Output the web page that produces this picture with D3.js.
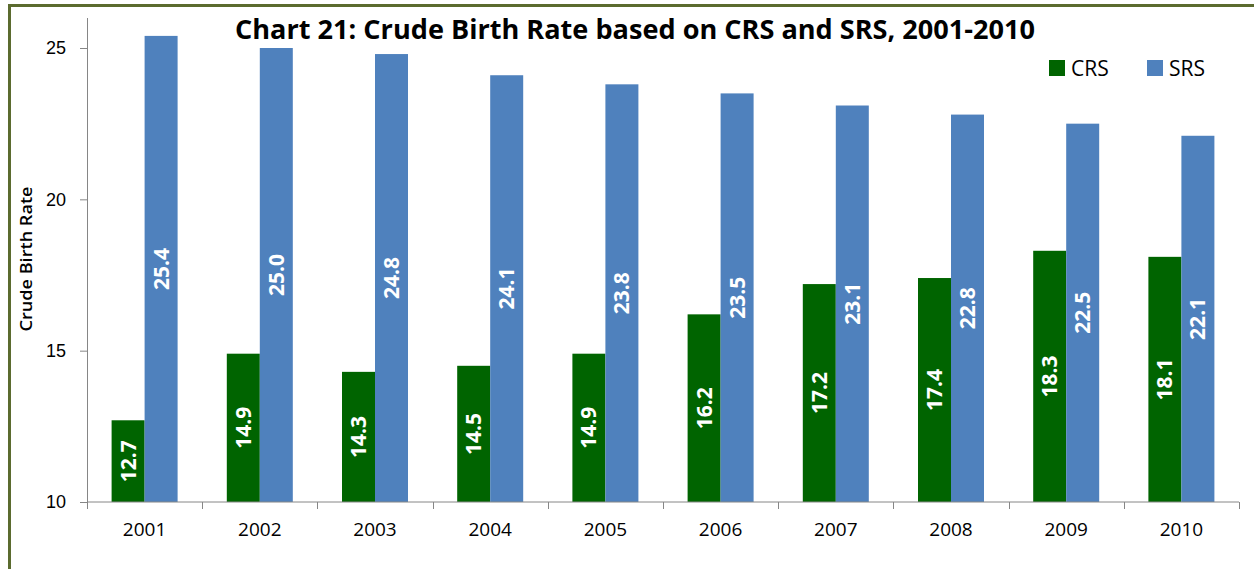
<!DOCTYPE html>
<html>
<head>
<meta charset="utf-8">
<script src="https://cdn.jsdelivr.net/npm/d3@7"></script>
<style>
  body { margin: 0; background: #fff; }
  svg { display: block; font-family: "Open Sans", "Liberation Sans", sans-serif; }
</style>
</head>
<body>
<svg id="chart" width="1254" height="569"></svg>
<script>
  var years = ['2001', '2002', '2003', '2004', '2005', '2006', '2007', '2008', '2009', '2010'];
  var crs = [12.7, 14.9, 14.3, 14.5, 14.9, 16.2, 17.2, 17.4, 18.3, 18.1];
  var srs = [25.4, 25.0, 24.8, 24.1, 23.8, 23.5, 23.1, 22.8, 22.5, 22.1];
  var seriesNames = ['CRS', 'SRS'];
  var yTicks = [10, 15, 20, 25];

  var colors = {CRS: '#006400', SRS: '#4f81bd'};

  var svg = d3.select('#chart'),
      margin = {top: 48, left: 87, right: 15, bottom: 67},
      width = +svg.attr('width') - margin.left - margin.right,
      height = +svg.attr('height') - margin.top - margin.bottom;

  // frame (only top and left visible)
  svg.append('path')
      .attr('d', 'M9.5,569 V5.5 H1254')
      .attr('fill', 'none')
      .attr('stroke', '#5b6b2f')
      .attr('stroke-width', 3);

  var g = svg.append('g')
      .attr('transform', 'translate(' + margin.left + ',' + margin.top + ')');

  var x = d3.scaleBand().domain(years).range([0, width]);
  var xInner = d3.scaleBand().domain(seriesNames).range([0, 66]);
  var y = d3.scaleLinear().domain([10, 25]).range([height, 0]);

  var data = years.map(function (yr, i) {
    return {year: yr, values: [{key: 'CRS', value: crs[i]}, {key: 'SRS', value: srs[i]}]};
  });

  var groups = g.selectAll('.grp').data(data).enter().append('g')
      .attr('class', 'grp')
      .attr('transform', function (d) {
        return 'translate(' + (x(d.year) + x.bandwidth() / 2 - 33) + ',0)';
      });

  groups.selectAll('rect').data(function (d) { return d.values; }).enter().append('rect')
      .attr('x', function (d) { return xInner(d.key); })
      .attr('width', xInner.bandwidth())
      .attr('y', function (d) { return y(d.value); })
      .attr('height', function (d) { return height - y(d.value); })
      .attr('fill', function (d) { return colors[d.key]; });

  groups.selectAll('text').data(function (d) { return d.values; }).enter().append('text')
      .attr('transform', function (d) {
        var cx = xInner(d.key) + xInner.bandwidth() / 2;
        var cy = (y(d.value) + height) / 2;
        return 'translate(' + cx + ',' + cy + ') rotate(-90)';
      })
      .attr('text-anchor', 'middle')
      .attr('dy', '0.36em')
      .attr('fill', '#fff')
      .style('font-size', '21px')
      .style('font-weight', 'bold')
      .text(function (d) { return d.value.toFixed(1); });

  // y axis
  var yAxis = d3.axisLeft(y).tickValues(yTicks).tickSize(7).tickPadding(14);
  var yg = g.append('g').call(yAxis);
  yg.select('.domain').attr('d', 'M0.5,-30V' + (height + 0.5));
  yg.selectAll('line, .domain').attr('stroke', '#868686');
  yg.selectAll('text').style('font-size', '18px').attr('fill', '#000');

  // x axis with ticks at category boundaries
  var xg = g.append('g').attr('transform', 'translate(0,' + height + ')');
  xg.append('line').attr('x1', 0).attr('x2', width).attr('stroke', '#868686');
  xg.selectAll('.tk').data(d3.range(years.length + 1)).enter().append('line')
      .attr('class', 'tk')
      .attr('x1', function (i) { return Math.round(i * x.step()) + 0.5; })
      .attr('x2', function (i) { return Math.round(i * x.step()) + 0.5; })
      .attr('y1', 0).attr('y2', 7)
      .attr('stroke', '#868686');
  xg.selectAll('.lbl').data(years).enter().append('text')
      .attr('x', function (d) { return x(d) + x.bandwidth() / 2; })
      .attr('y', 34)
      .attr('text-anchor', 'middle')
      .style('font-size', '19px')
      .text(function (d) { return d; });

  // axis title
  svg.append('text')
      .attr('transform', 'translate(32,259) rotate(-90)')
      .attr('text-anchor', 'middle')
      .attr('textLength', 145)
      .attr('lengthAdjust', 'spacingAndGlyphs')
      .style('font-size', '16px')
      .style('font-weight', '600')
      .text('Crude Birth Rate');

  // chart title
  svg.append('text')
      .attr('x', 635)
      .attr('y', 39)
      .attr('text-anchor', 'middle')
      .attr('textLength', 800)
      .attr('lengthAdjust', 'spacingAndGlyphs')
      .style('font-size', '26px')
      .style('font-weight', 'bold')
      .text('Chart 21: Crude Birth Rate based on CRS and SRS, 2001-2010');

  // legend
  var legend = svg.append('g').attr('transform', 'translate(1049,60)');
  var li = legend.selectAll('g').data(seriesNames).enter().append('g')
      .attr('transform', function (d, i) { return 'translate(' + (i * 98) + ',0)'; });
  li.append('rect').attr('width', 16).attr('height', 16)
      .attr('fill', function (d) { return colors[d]; });
  li.append('text').attr('x', 22).attr('y', 8).attr('dy', '0.36em')
      .style('font-size', '21px')
      .text(function (d) { return d; });
</script>
</body>
</html>
